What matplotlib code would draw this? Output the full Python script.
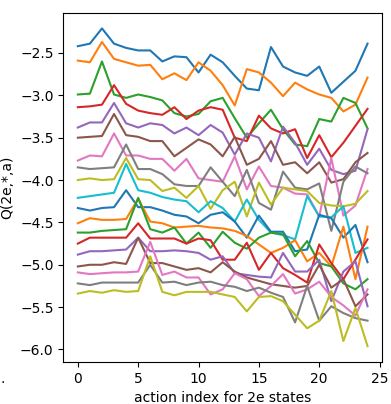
import numpy as np
import matplotlib
matplotlib.use("Agg")
import matplotlib.pyplot as plt

# Q values for 19 states, 25 actions each
actions = list(range(25))

q_blue_1 = [-2.42, -2.39, -2.21, -2.39, -2.44, -2.47, -2.47, -2.60, -2.54, -2.55, -2.73, -2.52, -2.61,
            -2.77, -2.92, -2.94, -2.43, -2.66, -2.73, -2.77, -2.66, -2.97, -2.84, -2.71, -2.39]
q_orange_1 = [-2.59, -2.61, -2.37, -2.57, -2.61, -2.65, -2.64, -2.81, -2.74, -2.82, -2.61, -2.71, -2.88,
              -3.12, -2.69, -2.73, -2.85, -3.01, -2.85, -2.93, -2.99, -3.03, -3.19, -3.11, -2.79]
q_green_1 = [-2.99, -2.98, -2.60, -2.99, -3.03, -2.99, -3.02, -3.06, -3.21, -3.25, -3.22, -3.07, -3.03,
             -3.27, -3.50, -3.33, -3.17, -3.40, -3.58, -3.60, -3.28, -3.31, -3.03, -3.09, -3.39]
q_red_1 = [-3.14, -3.13, -3.11, -2.88, -3.10, -3.18, -3.21, -3.23, -3.14, -3.28, -3.18, -3.14, -3.17,
           -3.50, -3.54, -3.24, -3.39, -3.45, -3.40, -3.74, -3.47, -3.73, -3.56, -3.36, -3.16]
q_purple_1 = [-3.38, -3.32, -3.32, -3.09, -3.33, -3.38, -3.33, -3.35, -3.45, -3.38, -3.47, -3.35, -3.44,
              -3.70, -3.45, -3.50, -3.78, -3.37, -3.56, -3.82, -3.63, -3.88, -3.93, -3.89, -3.40]
q_brown_1 = [-3.50, -3.49, -3.48, -3.22, -3.47, -3.49, -3.54, -3.54, -3.72, -3.62, -3.52, -3.58, -3.72,
             -3.49, -3.82, -3.75, -3.54, -3.82, -3.79, -3.92, -3.79, -4.03, -3.99, -3.79, -3.68]
q_pink_1 = [-3.77, -3.71, -3.72, -3.45, -3.71, -3.71, -3.75, -3.75, -3.89, -3.75, -3.98, -4.00, -4.02,
            -3.72, -4.11, -3.84, -4.07, -4.09, -4.16, -4.17, -4.43, -3.74, -4.42, -4.30, -3.87]
q_gray_1 = [-3.85, -3.87, -3.86, -3.85, -3.58, -3.87, -3.87, -3.93, -4.05, -4.07, -4.07, -3.85, -4.02,
            -4.19, -3.88, -4.27, -4.35, -3.90, -4.09, -4.11, -4.04, -4.60, -4.02, -3.84, -3.92]
q_olive_1 = [-4.00, -3.98, -4.00, -3.99, -3.74, -3.99, -4.00, -4.13, -4.09, -4.21, -4.07, -4.34, -4.12,
             -4.02, -4.43, -4.03, -4.29, -4.09, -4.11, -4.13, -4.27, -4.30, -4.31, -4.28, -4.13]
q_cyan_1 = [-4.21, -4.19, -4.17, -4.15, -3.81, -4.12, -4.15, -4.20, -4.23, -4.25, -4.38, -4.25, -4.33,
            -4.49, -4.23, -4.47, -4.62, -4.65, -4.70, -4.19, -4.43, -4.44, -4.31, -4.86, -4.80]
q_blue_2 = [-4.33, -4.36, -4.33, -4.32, -4.12, -4.32, -4.32, -4.36, -4.41, -4.43, -4.51, -4.41, -4.38,
            -4.49, -4.68, -4.42, -4.61, -4.61, -4.84, -4.82, -4.41, -4.45, -4.68, -4.53, -4.97]
q_orange_2 = [-4.51, -4.45, -4.47, -4.47, -4.46, -4.22, -4.49, -4.51, -4.56, -4.55, -4.54, -4.56, -4.57,
              -4.60, -4.66, -4.76, -4.86, -4.80, -4.71, -4.96, -4.86, -5.02, -4.55, -5.17, -4.55]
q_green_2 = [-4.62, -4.62, -4.60, -4.59, -4.58, -4.21, -4.58, -4.62, -4.56, -4.75, -4.62, -4.80, -4.61,
             -4.74, -4.81, -4.68, -4.62, -4.64, -4.90, -4.72, -4.98, -5.02, -5.22, -5.29, -5.17]
q_red_2 = [-4.75, -4.68, -4.68, -4.68, -4.68, -4.51, -4.69, -4.69, -4.69, -4.75, -4.69, -4.71, -4.94,
           -4.94, -4.74, -5.06, -4.86, -5.04, -5.12, -5.21, -4.76, -4.98, -5.17, -4.94, -4.70]
q_purple_2 = [-4.88, -4.84, -4.84, -4.83, -4.82, -4.68, -4.84, -4.84, -4.83, -4.84, -4.86, -4.94, -4.90,
              -5.10, -5.12, -5.14, -5.15, -4.86, -5.08, -5.08, -4.94, -5.43, -5.08, -4.96, -5.49]
q_brown_2 = [-5.02, -5.00, -5.00, -4.97, -4.99, -4.68, -4.98, -4.98, -5.02, -5.06, -5.04, -5.09, -4.97,
             -5.08, -5.15, -5.19, -5.23, -5.25, -5.27, -5.25, -5.00, -5.27, -5.17, -5.49, -5.35]
q_pink_2 = [-5.09, -5.11, -5.10, -5.09, -5.09, -5.08, -4.73, -5.12, -5.08, -5.15, -5.15, -5.35, -5.29,
            -5.10, -5.17, -5.37, -5.25, -5.11, -5.34, -5.29, -5.20, -5.38, -5.48, -5.60, -5.29]
q_gray_2 = [-5.22, -5.24, -5.21, -5.21, -5.21, -5.21, -5.00, -5.21, -5.20, -5.24, -5.21, -5.20, -5.24,
            -5.26, -5.31, -5.27, -5.33, -5.38, -5.68, -5.25, -5.66, -5.49, -5.57, -5.63, -5.66]
q_olive_2 = [-5.34, -5.31, -5.33, -5.30, -5.32, -5.31, -4.90, -5.32, -5.36, -5.32, -5.32, -5.32, -5.35,
             -5.38, -5.55, -5.38, -5.37, -5.43, -5.59, -5.75, -5.66, -5.31, -5.90, -5.51, -5.96]

all_states = [q_blue_1, q_orange_1, q_green_1, q_red_1, q_purple_1, q_brown_1, q_pink_1, q_gray_1,
              q_olive_1, q_cyan_1, q_blue_2, q_orange_2, q_green_2, q_red_2, q_purple_2, q_brown_2,
              q_pink_2, q_gray_2, q_olive_2]

fig = plt.figure(figsize=(3.91, 4.04), dpi=100)
ax = fig.add_axes([0.162, 0.104, 0.815, 0.865])

for q in all_states:
    ax.plot(actions, q)

ax.set_xlabel("action index for 2e states")
ax.set_ylabel("Q(2e,*,a)")

# stray mark at the bottom-left edge of the reference (cut-off neighbour text)
fig.text(0.0, 0.052, ".", fontsize=10, ha="left", va="baseline")

fig.savefig("out.png", dpi=100)
